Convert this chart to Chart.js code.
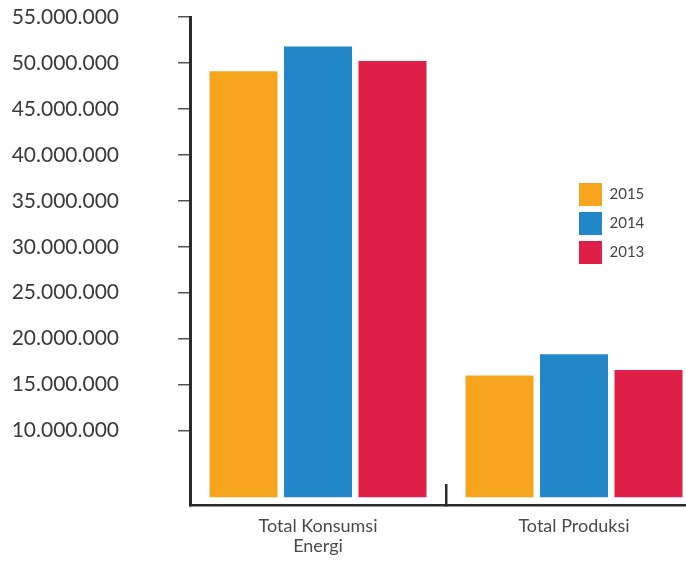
<!DOCTYPE html>
<html lang="id">
<head>
<meta charset="utf-8">
<title>Konsumsi dan Produksi Energi</title>
<script src="https://cdn.jsdelivr.net/npm/chart.js@4/dist/chart.umd.min.js"></script>
<style>
  html, body { margin: 0; padding: 0; background: #fff; overflow: hidden; }
  /* kanvas sedikit lebih lebar dari jendela, sisi kanan terpotong */
  #wrap { width: 702px; height: 563px; position: relative; }
</style>
</head>
<body>
<div id="wrap"><canvas id="energi-chart"></canvas></div>
<script>
// Kategori, tahun dan nilai per tahun
const categories = [['Total Konsumsi', 'Energi'], 'Total Produksi'];
const years      = ['2015', '2014', '2013'];
const values2015 = [49100000, 16000000];
const values2014 = [51800000, 18300000];
const values2013 = [50200000, 16600000];
const yTickValues = [10000000, 15000000, 20000000, 25000000, 30000000,
                     35000000, 40000000, 45000000, 50000000, 55000000];

// 55000000 -> "55.000.000"
const fmtDot = v => String(v).replace(/\B(?=(\d{3})+(?!\d))/g, '.');

Chart.defaults.font.family = 'Lato, "Liberation Sans", sans-serif';

// legend dipindah ke posisi tetap di dalam area chart
const legendAt = {
  id: 'legendAt',
  beforeDraw(chart, args, opts) {
    const lg = chart.legend;
    if (!lg) return;
    lg.left = opts.x;
    lg.top = opts.y;
    lg.right = opts.x + lg.width;
    lg.bottom = opts.y + 200;
  }
};

// batang tidak menempel sumbu x: mulai sedikit di atas batas bawah sumbu y
const barStyle = {
  base: 2750000,
  borderWidth: 0,
  categoryPercentage: 0.873,
  barPercentage: 0.913
};

new Chart(document.getElementById('energi-chart'), {
  type: 'bar',
  data: {
    labels: categories,
    datasets: [
      { label: years[0], data: values2015, backgroundColor: '#F6A41E', ...barStyle },
      { label: years[1], data: values2014, backgroundColor: '#2187C9', ...barStyle },
      { label: years[2], data: values2013, backgroundColor: '#E01F48', ...barStyle }
    ]
  },
  options: {
    responsive: true,
    maintainAspectRatio: false,
    animation: false,
    layout: { padding: { top: 17, right: 0, left: 0, bottom: 0 } },
    plugins: {
      tooltip: { enabled: false },
      legend: {
        position: 'chartArea',
        align: 'start',
        labels: {
          boxWidth: 23,
          boxHeight: 23,
          padding: 6,
          color: '#444',
          font: { size: 15 },
          generateLabels: chart =>
            Chart.defaults.plugins.legend.labels.generateLabels(chart)
              .map(l => ({ ...l, lineWidth: 0 }))
        }
      },
      legendAt: { x: 573, y: 177 }
    },
    scales: {
      x: {
        grid: {
          drawOnChartArea: false,
          drawTicks: true,
          tickLength: -21,
          color: '#2b2b2b',
          lineWidth: 2.5
        },
        border: { color: '#2b2b2b', width: 2.5 },
        ticks: {
          color: '#4a4a4a',
          padding: 32,
          font: { size: 18, lineHeight: 1.13 }
        },
        afterFit: s => {
          s.height = 58;
          s.paddingLeft = 0;
          s.paddingRight = 0;
        }
      },
      y: {
        min: 1900000,
        max: 55000000,
        afterBuildTicks: s => { s.ticks = yTickValues.map(v => ({ value: v })); },
        afterFit: s => {
          s.width = 190;
          s.paddingTop = 0;
          s.paddingBottom = 0;
        },
        grid: {
          drawOnChartArea: false,
          drawTicks: true,
          tickLength: 12,
          color: '#555',
          lineWidth: 1.5
        },
        border: { color: '#2b2b2b', width: 3 },
        ticks: {
          color: '#3a3a3a',
          padding: 59,
          font: { size: 21 },
          callback: v => fmtDot(v)
        }
      }
    }
  },
  plugins: [legendAt]
});
</script>
</body>
</html>
